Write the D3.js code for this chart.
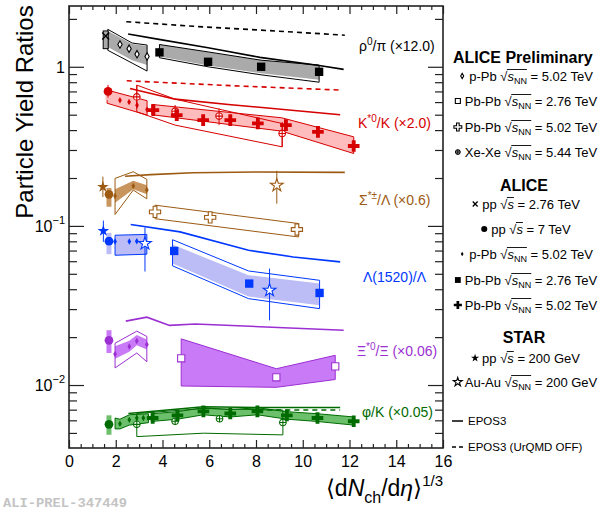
<!DOCTYPE html>
<html>
<head>
<meta charset="utf-8">
<script src="https://cdn.jsdelivr.net/npm/d3@7"></script>
<style>
body { margin: 0; background: #fff; }
svg { font-family: "Liberation Sans", Arial, sans-serif; }
</style>
</head>
<body>
<svg width="603" height="514"></svg>
<script>
// ---- data: points are [x, y], bands are [x, lo, hi] ----
// rho0/pi (x12)
const rhoPP276 = [[1.57, 1.56]];
const rhoPP276Sys = [[1.57, 1.30, 1.68]];
const rhoPPb = [[2.18, 1.38], [2.57, 1.30], [2.91, 1.20], [3.34, 1.16]];
const rhoPPbBand = [[1.66, 1.33, 1.68], [2.7, 1.10, 1.39], [3.34, 1.025, 1.35]];
const rhoPPbBox = [[1.66, 1.27, 1.72], [2.7, 1.055, 1.41], [3.34, 0.94, 1.37]];
const rhoPbPb276 = [[3.87, 1.232], [5.95, 1.075], [8.22, 1.0], [10.7, 0.93]];
const rhoPbPb276Band = [[3.87, 1.16, 1.38], [5.95, 1.02, 1.24], [8.22, 0.91, 1.10], [10.7, 0.83, 1.025]];
const rhoPbPb276Box = [[3.87, 1.14, 1.38], [5.95, 1.0, 1.24], [8.22, 0.89, 1.10], [10.7, 0.80, 1.025]];
const rhoEpos = [[2.53, 1.606], [3.85, 1.487], [5.95, 1.317], [8.17, 1.146], [10.7, 1.02], [11.75, 0.963]];
const rhoEposOff = [[2.45, 1.92], [5.5, 1.79], [8.5, 1.69], [11.8, 1.58]];

// K*0/K (x2)
const ksPP7 = [[1.67, 0.70, 0.64, 0.77]];
const ksPP7Sys = [[1.67, 0.617, 0.731]];
const ksPPb = [[2.18, 0.617], [2.57, 0.60], [2.91, 0.574], [3.34, 0.538]];
const ksPPbBand = [[1.63, 0.59, 0.714], [3.34, 0.497, 0.612]];
const ksPbPb502 = [[3.61, 0.534], [4.61, 0.497], [5.74, 0.462], [6.9, 0.462], [8.08, 0.441], [9.28, 0.430], [10.65, 0.390], [12.18, 0.318]];
const ksPbPb502Band = [[3.54, 0.50, 0.58], [9.1, 0.394, 0.478], [12.18, 0.285, 0.363]];
const ksXeXe = [[2.9, 0.647, 0.548, 0.767], [4.54, 0.526, 0.48, 0.575], [6.42, 0.49, 0.43, 0.548], [9.12, 0.381, 0.314, 0.45]];
const ksXeXeBox = [[2.9, 0.521, 0.767], [4.54, 0.43, 0.626], [9.12, 0.314, 0.44]];
const ksEpos = [[2.61, 0.731], [4.54, 0.626], [6.82, 0.58], [11.6, 0.50]];
const ksEposOff = [[2.47, 0.817], [7.0, 0.76], [11.6, 0.714]];

// Sigma*/Lambda (x0.6)
const sigStarPP = [[1.45, 0.176, 0.152, 0.204]];
const sigPP7 = [[1.71, 0.158]];
const sigPP7Sys = [[1.71, 0.132, 0.173]];
const sigPPb = [[1.97, 0.154], [2.75, 0.178], [3.33, 0.168]];
const sigPPbBand = [[1.97, 0.140, 0.170], [2.75, 0.170, 0.192], [3.33, 0.158, 0.180]];
const sigPPbBox = [[1.97, 0.118, 0.199], [2.75, 0.168, 0.219], [3.33, 0.148, 0.196]];
const sigPbPb502 = [[3.68, 0.1225], [6.04, 0.1131], [9.75, 0.0949]];
const sigPbPb502Box = [[3.68, 0.111, 0.135], [9.82, 0.0852, 0.1035]];
const sigStarAuAu = [[8.89, 0.18, 0.138, 0.222]];
const sigEpos = [[2.4, 0.205], [3.5, 0.210], [5.3, 0.216], [8.0, 0.218], [11.8, 0.217]];

// Lambda(1520)/Lambda
const lamStarPP = [[1.47, 0.093, 0.0794, 0.108]];
const lamPP7 = [[1.71, 0.0802]];
const lamPP7Sys = [[1.71, 0.0664, 0.0904]];
const lamPPb = [[1.97, 0.0797], [2.58, 0.0798], [2.9, 0.080]];
const lamPPbBand = [[1.97, 0.0654, 0.0874], [3.33, 0.0664, 0.0884]];
const lamStarAuAu = [[3.25, 0.0775, 0.0517, 0.0977], [8.58, 0.0394, 0.0255, 0.0539]];
const lamPbPb276 = [[4.5, 0.0696], [7.71, 0.0434], [10.72, 0.0379]];
const lamPbPb276Band = [[4.43, 0.058, 0.0763], [7.68, 0.036, 0.049], [10.72, 0.0317, 0.0434]];
const lamPbPb276Box = [[4.43, 0.0561, 0.0819], [7.68, 0.0349, 0.0521], [10.72, 0.0302, 0.0455]];
const lamEpos = [[2.64, 0.102], [4.75, 0.0917], [7.68, 0.0703], [9.6, 0.0638], [11.6, 0.0594]];

// Xi*0/Xi (x0.06)
const xiPP7 = [[1.71, 0.0191]];
const xiPP7Sys = [[1.71, 0.0159, 0.0221]];
const xiPPb = [[1.97, 0.01564], [2.58, 0.01747], [2.9, 0.0189], [3.33, 0.018]];
const xiPPbBand = [[1.97, 0.0146, 0.0175], [2.58, 0.0162, 0.0190], [2.9, 0.0178, 0.0206], [3.33, 0.0167, 0.0193]];
const xiPPbBox = [[1.97, 0.0128, 0.0183], [2.9, 0.0159, 0.0218], [3.33, 0.0140, 0.0202]];
const xiPbPb276 = [[4.8, 0.01472], [8.87, 0.01118], [11.39, 0.0131]];
const xiPbPb276Band = [[4.8, 0.00986, 0.0195], [8.87, 0.00967, 0.01266], [11.39, 0.01083, 0.01537]];
const xiEpos = [[2.43, 0.0252], [3.33, 0.0267], [4.3, 0.0237], [5.4, 0.0242], [11.75, 0.0221]];

// phi/K (x0.05)
const phiPP7 = [[1.71, 0.00566]];
const phiPP7Sys = [[1.71, 0.00487, 0.00645]];
const phiPPb = [[2.18, 0.00571], [2.58, 0.00604], [2.9, 0.00621], [3.18, 0.00621], [3.4, 0.00621]];
const phiPPbBand = [[1.97, 0.0053, 0.0062], [2.18, 0.0053, 0.0061], [2.58, 0.0056, 0.0065], [3.4, 0.0058, 0.0066]];
const phiPbPb502 = [[3.58, 0.00621], [4.64, 0.00645], [5.75, 0.00683], [6.9, 0.00662], [8.06, 0.00683], [9.32, 0.00645], [10.63, 0.00621], [12.18, 0.00592]];
const phiPbPb502Band = [[3.52, 0.0059, 0.0066], [4.64, 0.0061, 0.0068], [5.75, 0.0065, 0.0072], [6.9, 0.0063, 0.0070], [8.06, 0.0065, 0.0072], [9.32, 0.0061, 0.0068], [10.63, 0.0059, 0.0066], [12.18, 0.0056, 0.0063]];
const phiXeXe = [[2.9, 0.00566], [4.54, 0.00592], [6.44, 0.00614], [9.15, 0.00582]];
const phiXeXeBox = [[2.9, 0.00474, 0.00662], [5.75, 0.00498, 0.00712], [9.15, 0.00486, 0.00695]];
const phiEpos = [[2.54, 0.00662], [5.75, 0.0073], [8.04, 0.00722], [11.6, 0.00722]];
const phiEposOff = [[8.1, 0.00698], [11.6, 0.00696]];

// axes
const xTicksMajor = [0, 2, 4, 6, 8, 10, 12, 14, 16];
const xTicksMinor = d3.range(0.5, 16, 0.5).filter(v => v % 2 !== 0);
const yTicksMajor = [0.01, 0.1, 1];
const yTickLabels = [['10', '\u22122'], ['10', '\u22121'], ['1', '']];
const yTicksMinor = [0.005, 0.006, 0.007, 0.008, 0.009, 0.02, 0.03, 0.04, 0.05, 0.06, 0.07, 0.08, 0.09,
	0.2, 0.3, 0.4, 0.5, 0.6, 0.7, 0.8, 0.9, 2];

// legend
const legendPrelim = [['openDiamond', 'p-Pb', true, '5.02 TeV'], ['openSquare', 'Pb-Pb', true, '2.76 TeV'],
	['openCross', 'Pb-Pb', true, '5.02 TeV'], ['xexe', 'Xe-Xe', true, '5.44 TeV']];
const legendAlice = [['times', 'pp', false, '2.76 TeV'], ['circle', 'pp', false, '7 TeV'],
	['diamond', 'p-Pb', true, '5.02 TeV'], ['square', 'Pb-Pb', true, '2.76 TeV'], ['cross', 'Pb-Pb', true, '5.02 TeV']];
const legendStar = [['star', 'pp', false, '200 GeV'], ['openStar', 'Au-Au', true, '200 GeV']];

const svg = d3.select('svg');

const xScale = d3.scaleLinear().domain([0, 16]).range([69, 443]);
const yScale = d3.scaleLog().domain([0.00402, 2.41]).range([448, 6]);

const line = d3.line().x(d => xScale(d[0])).y(d => yScale(d[1]));
const bandPath = rows => {
	const top = rows.map(r => [xScale(r[0]), yScale(r[2])]);
	const bot = rows.map(r => [xScale(r[0]), yScale(r[1])]).reverse();
	return 'M' + top.concat(bot).join('L') + 'Z';
};

const plot = svg.append('g');
const gBands = plot.append('g');
const gLines = plot.append('g');
const gErr = plot.append('g');
const gMarks = plot.append('g');

const band = (rows, fill, stroke) => gBands.append('path')
	.attr('d', bandPath(rows))
	.attr('fill', fill || 'none')
	.attr('stroke', stroke || 'none')
	.attr('stroke-width', 1);

const sysBar = (rows, fill, stroke) => rows.forEach(r => {
	gBands.append('rect')
		.attr('x', xScale(r[0]) - 2.5)
		.attr('width', 5)
		.attr('y', yScale(r[2]))
		.attr('height', yScale(r[1]) - yScale(r[2]))
		.attr('fill', fill)
		.attr('stroke', stroke || 'none');
});

const curve = (pts, color, dashed) => gLines.append('path')
	.attr('d', line(pts))
	.attr('fill', 'none')
	.attr('stroke', color)
	.attr('stroke-width', 1.6)
	.attr('stroke-dasharray', dashed ? '5,4' : null);

const symbolPath = (type, size) => d3.symbol().type(type).size(size)();

function drawMarker(parent, cx, cy, type, color, k) {
	k = k || 1;
	const g = parent.append('g').attr('transform', `translate(${cx},${cy}) scale(${k})`);
	const sw = 1.1 / k;
	const solid = (sym, size) => g.append('path').attr('d', symbolPath(sym, size)).attr('fill', color);
	const hollow = (sym, size) => g.append('path').attr('d', symbolPath(sym, size))
		.attr('fill', '#fff').attr('stroke', color).attr('stroke-width', sw);
	if (type === 'circle') solid(d3.symbolCircle, 60);
	else if (type === 'square') solid(d3.symbolSquare, 70);
	else if (type === 'cross') solid(d3.symbolCross, 75);
	else if (type === 'diamond') solid(d3.symbolDiamond, 12);
	else if (type === 'star') solid(d3.symbolStar, 42);
	else if (type === 'openSquare') hollow(d3.symbolSquare, 52);
	else if (type === 'openCross') hollow(d3.symbolCross, 70);
	else if (type === 'openDiamond') hollow(d3.symbolDiamond, 16);
	else if (type === 'openStar') hollow(d3.symbolStar, 50);
	else if (type === 'times') {
		g.append('path').attr('d', 'M-3.5,-3.5L3.5,3.5M-3.5,3.5L3.5,-3.5')
			.attr('stroke', color).attr('stroke-width', 1.3 / k).attr('fill', 'none');
	} else if (type === 'xexe') {
		g.append('circle').attr('r', 3.3)
			.attr('fill', '#fff').attr('stroke', color).attr('stroke-width', sw);
		g.append('path').attr('d', 'M-3.3,0H3.3M0,-3.3V3.3')
			.attr('stroke', color).attr('stroke-width', sw);
	}
}

const marks = (pts, type, color) => pts.forEach(p => {
	if (p.length > 2) {
		gErr.append('line')
			.attr('x1', xScale(p[0])).attr('x2', xScale(p[0]))
			.attr('y1', yScale(p[2])).attr('y2', yScale(p[3]))
			.attr('stroke', color).attr('stroke-width', 1);
	}
	drawMarker(gMarks, xScale(p[0]), yScale(p[1]), type, color);
});

// colours
const cBlack = '#000000', fBlack = '#aaaaaa';
const cRed = '#d60000', fRed = '#ffbcbc';
const cBrown = '#9c5a12', fBrown = '#c8955e';
const cBlue = '#0038ff', fBlue = '#bcbdf7';
const cPurple = '#9b2fd2', fPurple = '#c97af6';
const cGreen = '#006b00', fGreen = '#6cc06c';

// rho
band(rhoPPbBand, fBlack);
band(rhoPPbBox, null, cBlack);
band(rhoPbPb276Band, fBlack);
band(rhoPbPb276Box, null, cBlack);
sysBar(rhoPP276Sys, fBlack, cBlack);
curve(rhoEpos, cBlack);
curve(rhoEposOff, cBlack, true);
marks(rhoPP276, 'times', cBlack);
marks(rhoPPb, 'openDiamond', cBlack);
marks(rhoPbPb276, 'square', cBlack);

// K*
band(ksPPbBand, fRed, cRed);
band(ksPbPb502Band, fRed, cRed);
band(ksXeXeBox, null, cRed);
sysBar(ksPP7Sys, fRed);
curve(ksEpos, cRed);
curve(ksEposOff, cRed, true);
marks(ksPP7, 'circle', cRed);
marks(ksPPb, 'diamond', cRed);
marks(ksXeXe, 'xexe', cRed);
marks(ksPbPb502, 'cross', cRed);

// Sigma*
band(sigPPbBand, fBrown);
band(sigPPbBox, null, cBrown);
band(sigPbPb502Box, null, cBrown);
sysBar(sigPP7Sys, fBrown);
curve(sigEpos, cBrown);
marks(sigStarPP, 'star', cBrown);
marks(sigPP7, 'circle', cBrown);
marks(sigPPb, 'diamond', cBrown);
marks(sigPbPb502, 'openCross', cBrown);
marks(sigStarAuAu, 'openStar', cBrown);

// Lambda(1520)
band(lamPPbBand, fBlue, cBlue);
band(lamPbPb276Band, fBlue);
band(lamPbPb276Box, null, cBlue);
sysBar(lamPP7Sys, fBlue);
curve(lamEpos, cBlue);
marks(lamStarPP, 'star', cBlue);
marks(lamPP7, 'circle', cBlue);
marks(lamPPb, 'diamond', cBlue);
marks(lamPbPb276, 'square', cBlue);
marks(lamStarAuAu, 'openStar', cBlue);

// Xi*
band(xiPPbBand, fPurple);
band(xiPPbBox, null, cPurple);
band(xiPbPb276Band, fPurple, cPurple);
sysBar(xiPP7Sys, fPurple);
curve(xiEpos, cPurple);
marks(xiPP7, 'circle', cPurple);
marks(xiPPb, 'diamond', cPurple);
marks(xiPbPb276, 'openSquare', cPurple);

// phi
band(phiPPbBand, fGreen, cGreen);
band(phiPbPb502Band, fGreen, cGreen);
band(phiXeXeBox, null, cGreen);
sysBar(phiPP7Sys, fGreen);
curve(phiEpos, cGreen);
curve(phiEposOff, cGreen, true);
marks(phiPP7, 'circle', cGreen);
marks(phiPPb, 'diamond', cGreen);
marks(phiXeXe, 'xexe', cGreen);
marks(phiPbPb502, 'cross', cGreen);

// species labels: [text, dy, fontSize]
const speciesLabel = (x, y, color, parts) => {
	const t = svg.append('text').attr('x', x).attr('y', y).attr('dy', '0.35em')
		.attr('font-size', 14).attr('fill', color);
	parts.forEach(p => {
		t.append('tspan').attr('dy', p[1] || null).attr('font-size', p[2] || null).text(p[0]);
	});
};
speciesLabel(359, 46, cBlack, [['\u03c1'], ['0', -6, 10], ['/\u03c0 (\u00d712.0)', 6]]);
speciesLabel(358, 123, cRed, [['K'], ['*0', -6, 10], ['/K (\u00d72.0)', 6]]);
speciesLabel(359, 200, cBrown, [['\u03a3'], ['*\u00b1', -6, 10], ['/\u039b (\u00d70.6)', 6]]);
speciesLabel(363, 277, cBlue, [['\u039b(1520)/\u039b']]);
speciesLabel(357, 351, cPurple, [['\u039e'], ['*0', -6, 10], ['/\u039e (\u00d70.06)', 6]]);
speciesLabel(362, 412, cGreen, [['\u03c6/K (\u00d70.05)']]);

// axes and frame
const gAxes = svg.append('g');
const addAxis = (axis, transform) => {
	const a = gAxes.append('g').attr('transform', transform).call(axis);
	a.select('.domain').remove();
	a.selectAll('line').attr('stroke', '#222').attr('stroke-width', 1.2);
	return a;
};
const xAxisG = addAxis(d3.axisBottom(xScale).tickValues(xTicksMajor).tickSize(-8).tickPadding(8), 'translate(0,448)');
xAxisG.selectAll('text').attr('font-size', 16).attr('font-family', '"Liberation Sans", Arial, sans-serif').attr('fill', '#000');
addAxis(d3.axisBottom(xScale).tickValues(xTicksMinor).tickSize(-4).tickFormat(''), 'translate(0,448)');
addAxis(d3.axisTop(xScale).tickValues(xTicksMajor).tickSize(-8).tickFormat(''), 'translate(0,6)');
addAxis(d3.axisTop(xScale).tickValues(xTicksMinor).tickSize(-4).tickFormat(''), 'translate(0,6)');
addAxis(d3.axisLeft(yScale).tickValues(yTicksMajor).tickSize(-15).tickFormat(''), 'translate(69,0)');
addAxis(d3.axisLeft(yScale).tickValues(yTicksMinor).tickSize(-8).tickFormat(''), 'translate(69,0)');
addAxis(d3.axisRight(yScale).tickValues(yTicksMajor).tickSize(-15).tickFormat(''), 'translate(443,0)');
addAxis(d3.axisRight(yScale).tickValues(yTicksMinor).tickSize(-8).tickFormat(''), 'translate(443,0)');

yTicksMajor.forEach((v, i) => {
	const t = svg.append('text').attr('x', 65).attr('y', yScale(v) + 6)
		.attr('text-anchor', 'end').attr('font-size', 16);
	t.append('tspan').text(yTickLabels[i][0]);
	if (yTickLabels[i][1]) t.append('tspan').attr('font-size', 11).attr('dy', -8).text(yTickLabels[i][1]);
});

svg.append('rect').attr('x', 69).attr('y', 6).attr('width', 374).attr('height', 442)
	.attr('fill', 'none').attr('stroke', '#222').attr('stroke-width', 1.6);

// axis titles
svg.append('text')
	.attr('transform', 'translate(33,112) rotate(-90)')
	.attr('text-anchor', 'middle')
	.attr('font-size', 24)
	.text('Particle Yield Ratios');

const xt = svg.append('text').attr('x', 443).attr('y', 496).attr('text-anchor', 'end').attr('font-size', 23);
xt.append('tspan').text('\u27e8d');
xt.append('tspan').attr('font-style', 'italic').text('N');
xt.append('tspan').attr('font-size', 16).attr('dy', 7).text('ch');
xt.append('tspan').attr('dy', -7).text('/d');
xt.append('tspan').attr('font-style', 'italic').text('\u03b7');
xt.append('tspan').text('\u27e9');
xt.append('tspan').attr('font-size', 15).attr('dy', -10).text('1/3');

// legend
const lg = svg.append('g');
lg.append('text').attr('x', 453).attr('y', 63).attr('font-size', 16).attr('font-weight', 'bold').text('ALICE Preliminary');
lg.append('text').attr('x', 524).attr('y', 191).attr('text-anchor', 'middle').attr('font-size', 16).attr('font-weight', 'bold').text('ALICE');
lg.append('text').attr('x', 524).attr('y', 343).attr('text-anchor', 'middle').attr('font-size', 16).attr('font-weight', 'bold').text('STAR');

const legendEntry = (row, y) => {
	const [type, sys, nn, energy] = row;
	const t = lg.append('text').attr('y', y).attr('dy', '0.35em').attr('font-size', 13);
	t.append('tspan').text(sys + ' \u221a');
	t.append('tspan').attr('font-style', 'italic').text('s');
	if (nn) t.append('tspan').attr('font-size', 9).attr('dy', 3).text('NN');
	t.append('tspan').attr('dy', nn ? -3 : null).text(' = ' + energy);
	const len = t.node().getComputedTextLength();
	const x0 = 526 - (len + 10) / 2 + 10;
	t.attr('x', x0);
	const node = t.node();
	const iRoot = sys.length + 1;
	const iEnd = sys.length + 2 + (nn ? 2 : 0);
	const xa = node.getEndPositionOfChar(iRoot).x - 0.5;
	const xb = node.getEndPositionOfChar(iEnd).x;
	lg.append('line').attr('x1', xa).attr('x2', xb).attr('y1', y - 6.5).attr('y2', y - 6.5)
		.attr('stroke', '#000').attr('stroke-width', 0.9);
	drawMarker(lg, x0 - 7, y, type, '#000', 0.7);
};
legendPrelim.forEach((r, i) => legendEntry(r, [76, 101, 127, 152][i]));
legendAlice.forEach((r, i) => legendEntry(r, [204, 229, 254, 280, 305][i]));
legendStar.forEach((r, i) => legendEntry(r, [358, 382][i]));

[['EPOS3', null, 421], ['EPOS3 (UrQMD OFF)', '4,3', 447]].forEach(([label, dash, y]) => {
	lg.append('line').attr('x1', 452).attr('x2', 463).attr('y1', y).attr('y2', y)
		.attr('stroke', '#000').attr('stroke-width', 1.5).attr('stroke-dasharray', dash);
	lg.append('text').attr('x', 468).attr('y', y).attr('dy', '0.35em').attr('font-size', 11.5).text(label);
});

// watermark
svg.append('text').attr('x', 3).attr('y', 507)
	.attr('font-family', '"Liberation Mono", monospace').attr('font-weight', 'bold')
	.attr('font-size', 12).attr('fill', '#c4c4c4')
	.attr('textLength', 124).attr('lengthAdjust', 'spacingAndGlyphs')
	.text('ALI-PREL-347449');
</script>
</body>
</html>
